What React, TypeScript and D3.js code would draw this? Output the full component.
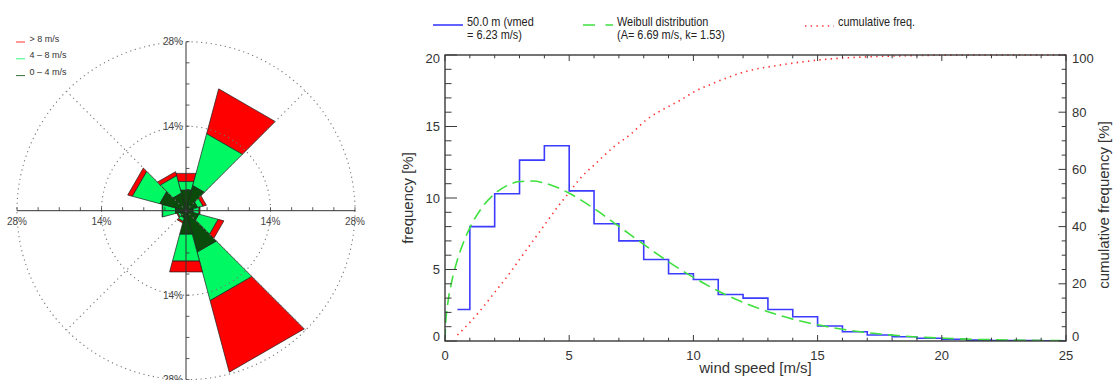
import React from "react";
import * as d3 from "d3";

// ---------------- Wind rose data (percent of time) ----------------
const roseDirections = [0, 30, 60, 90, 120, 150, 180, 210, 240, 270, 300, 330];
const roseLow = [3.5, 4.3, 2.0, 1.2, 2.2, 7.1, 4.0, 1.2, 1.0, 1.8, 4.5, 3.0]; // 0-4 m/s
const roseMid = [1.5, 8.9, 0.9, 1.0, 3.3, 8.3, 4.6, 0.6, 0.4, 2.2, 4.7, 3.0]; // 4-8 m/s
const roseHigh = [1.4, 7.7, 0.6, 0.2, 1.0, 12.3, 1.9, 0.3, 0.2, 0.1, 0.8, 0.7]; // > 8 m/s
const roseRings = [14, 28];
const roseAxisLabels = [-28, -14, 14, 28];
const roseLegendLabels = ["> 8 m/s", "4 \u2013 8 m/s", "0 \u2013 4 m/s"];

// ---------------- Histogram data ----------------
const histEdges = [0.5, 1, 2, 3, 4, 5, 6, 7, 8, 9, 10, 11, 12, 13, 14, 15, 16, 17, 18, 19, 20, 21, 22, 23, 24, 25];
const histFreq = [2.2, 8.0, 10.3, 12.65, 13.65, 10.5, 8.2, 7.0, 5.7, 4.7, 4.3, 3.25, 3.0, 2.2, 1.7, 1.05, 0.65, 0.42, 0.3, 0.19, 0.12, 0.06, 0.04, 0.03, 0.02];

const weibullSpeed = [0, 0.02, 0.1, 0.25, 0.5, 0.75, 1, 1.5, 2, 2.5, 3, 3.5, 4, 4.5, 5, 6, 7, 8, 9, 10, 11, 12, 13, 14, 15, 16, 17, 18, 19, 20, 21, 22, 23, 24, 25];
const weibullFreq = [0, 1.05, 2.47, 3.98, 5.68, 6.92, 7.91, 9.36, 10.3, 10.87, 11.15, 11.19, 11.05, 10.75, 10.33, 9.26, 8.02, 6.75, 5.54, 4.45, 3.5, 2.7, 2.05, 1.53, 1.13, 0.82, 0.58, 0.41, 0.28, 0.2, 0.13, 0.09, 0.06, 0.04, 0.02];

const cumSpeed = [0.5, 1, 1.5, 2, 2.5, 3, 3.5, 4, 4.5, 5, 5.5, 6, 6.8, 7.5, 8.1, 9, 9.5, 10, 10.8, 12.1, 13.5, 15.1, 17.1, 19, 21, 23, 25];
const cumFreq = [2.1, 6.5, 11.5, 17, 22.5, 28.5, 34.5, 40.5, 46.5, 52, 57.4, 61.5, 67.9, 72.5, 77.3, 82, 84.3, 87, 90.1, 94.2, 96.5, 98.3, 99.4, 99.8, 100, 100, 100];

const xTicks = [0, 5, 10, 15, 20, 25];
const yTicks = [0, 5, 10, 15, 20];
const y2Ticks = [0, 20, 40, 60, 80, 100];

const legendBlue = ["50.0 m (vmed", "= 6.23 m/s)"];
const legendGreen = ["Weibull distribution", "(A= 6.69 m/s, k= 1.53)"];
const legendRed = ["cumulative freq."];

const FONT = "'Liberation Sans', Arial, Helvetica, sans-serif";

const RED = "#ff0000";
const LIGHT = "#00f862";
const DARK = "#0a4a0a";

function WindRose() {
  const cx = 186;
  const cy = 210.7;
  const r = d3.scaleLinear().domain([0, 28]).range([0, 169]);
  const half = 15;
  const pt = (deg: number, rad: number) => {
    const a = (deg * Math.PI) / 180;
    return [cx + rad * Math.sin(a), cy - rad * Math.cos(a)] as [number, number];
  };
  const ring = (dir: number, r0: number, r1: number) => {
    const pts = [pt(dir - half, r0), pt(dir - half, r1), pt(dir + half, r1), pt(dir + half, r0)];
    return d3.line()(pts)! + "Z";
  };
  const tickVals = d3.range(-28, 28.01, 3.5);
  const maxR = r(28);
  return (
    <g>
      {roseDirections.map((dir, i) => {
        const c1 = roseLow[i];
        const c2 = c1 + roseMid[i];
        const c3 = c2 + roseHigh[i];
        return (
          <g key={dir} stroke="#1e1e1e" strokeWidth={0.7} strokeLinejoin="round">
            <path d={ring(dir, r(c2), r(c3))} fill={RED} />
            <path d={ring(dir, r(c1), r(c2))} fill={LIGHT} />
            <path d={ring(dir, 0, r(c1))} fill={DARK} />
          </g>
        );
      })}
      {roseRings.map((v) => (
        <circle key={v} cx={cx} cy={cy} r={r(v)} fill="none" stroke="#777" strokeWidth={1.1} strokeDasharray="1.2,3.6" />
      ))}
      {[45, 135, 225, 315].map((d) => {
        const p = pt(d, maxR);
        return <line key={d} x1={cx} y1={cy} x2={p[0]} y2={p[1]} stroke="#777" strokeWidth={1.1} strokeDasharray="1.2,3.6" />;
      })}
      <line x1={cx - maxR} x2={cx + maxR} y1={cy} y2={cy} stroke="#333" strokeWidth={1} />
      <line x1={cx} x2={cx} y1={cy - maxR} y2={cy + maxR} stroke="#333" strokeWidth={1} />
      {tickVals.map((v) => (
        <g key={v}>
          <line x1={cx + r(v)} x2={cx + r(v)} y1={cy} y2={cy - 3.5} stroke="#333" strokeWidth={0.8} />
          <line x1={cx} x2={cx + 3.5} y1={cy + r(v)} y2={cy + r(v)} stroke="#333" strokeWidth={0.8} />
        </g>
      ))}
      {roseAxisLabels.map((v) => (
        <text key={"h" + v} x={cx + r(v)} y={cy + 14} textAnchor="middle" fontSize={10} fill="#444" fontFamily={FONT}>
          {Math.abs(v) + "%"}
        </text>
      ))}
      {roseAxisLabels.map((v) => (
        <text key={"v" + v} x={cx - 3} y={cy + r(v) + 3.5} textAnchor="end" fontSize={10} fill="#444" fontFamily={FONT}>
          {Math.abs(v) + "%"}
        </text>
      ))}
      {roseLegendLabels.map((lab, i) => {
        const y = 42 + i * 16.8;
        const col = [RED, LIGHT, DARK][i];
        return (
          <g key={lab}>
            <line x1={16} x2={25} y1={y} y2={y} stroke={col} strokeWidth={1} opacity={0.8} />
            <text x={29.5} y={y - 0.5} fontSize={9} fill="#333" fontFamily={FONT}>
              {lab}
            </text>
          </g>
        );
      })}
    </g>
  );
}

function Histogram() {
  const x = d3.scaleLinear().domain([0, 25]).range([445, 1066]);
  const y = d3.scaleLinear().domain([0, 20]).range([341, 55]);
  const y2 = d3.scaleLinear().domain([0, 100]).range([341, 55]);

  const stepPts: [number, number][] = histEdges.map((e, i) => [x(e), y(histFreq[Math.min(i, histFreq.length - 1)])]);
  const stepPath = d3.line().curve(d3.curveStepAfter)(stepPts)!;

  const weibPath = d3
    .line<number>()
    .x((d, i) => x(weibullSpeed[i]))
    .y((d) => y(d))
    .curve(d3.curveMonotoneX)(weibullFreq)!;

  const cumPath = d3
    .line<number>()
    .x((d, i) => x(cumSpeed[i]))
    .y((d) => y2(d))
    .curve(d3.curveMonotoneX)(cumFreq)!;

  const [x0, x1] = x.range();
  const [yb, yt] = y.range();
  const axisCol = "#3a3a3a";

  const minorX = d3.range(0, 25.01, 1);
  const minorY = d3.range(0, 20.01, 1);
  const minorY2 = d3.range(0, 100.01, 5);

  const endNudge = (v: number, lo: number, hi: number) => (v === lo ? -5 : v === hi ? 3 : 0);

  return (
    <g fontFamily={FONT}>
      <defs>
        <clipPath id="plotclip">
          <rect x={x0} y={yt - 2} width={x1 - x0} height={yb - yt + 2} />
        </clipPath>
      </defs>
      <g clipPath="url(#plotclip)" fill="none">
        <path d={cumPath} stroke="#ff3030" strokeWidth={1.6} strokeDasharray="1.4,4.3" />
        <path d={stepPath} stroke="#3c3cff" strokeWidth={1.6} />
        <path d={weibPath} stroke="#3ee03e" strokeWidth={1.6} strokeDasharray="12,6" />
      </g>
      {/* frame */}
      <rect x={x0} y={yt} width={x1 - x0} height={yb - yt} fill="none" stroke={axisCol} strokeWidth={1.4} />
      {minorX.map((v) => {
        const major = v % 5 === 0;
        const l = major ? 6 : 3.3;
        return (
          <g key={"x" + v} stroke={axisCol} strokeWidth={1}>
            <line x1={x(v)} x2={x(v)} y1={yb} y2={yb - l} />
            <line x1={x(v)} x2={x(v)} y1={yt} y2={yt + l} />
          </g>
        );
      })}
      {minorY.map((v) => {
        const major = v % 5 === 0;
        const l = major ? 12 : 6.5;
        return <line key={"y" + v} x1={x0} x2={x0 + l} y1={y(v)} y2={y(v)} stroke={axisCol} strokeWidth={1} />;
      })}
      {minorY2.map((v) => {
        const major = v % 20 === 0;
        const l = major ? 7.5 : 4.3;
        return <line key={"y2" + v} x1={x1} x2={x1 - l} y1={y2(v)} y2={y2(v)} stroke={axisCol} strokeWidth={1} />;
      })}
      {xTicks.map((v) => (
        <text key={"xl" + v} x={x(v)} y={360} textAnchor="middle" fontSize={13} fill="#333">
          {v}
        </text>
      ))}
      {yTicks.map((v) => (
        <text key={"yl" + v} x={440} y={y(v) + endNudge(v, 0, 20)} dy="0.36em" textAnchor="end" fontSize={13} fill="#333">
          {v}
        </text>
      ))}
      {y2Ticks.map((v) => (
        <text key={"y2l" + v} x={1072} y={y2(v) + endNudge(v, 0, 100)} dy="0.36em" textAnchor="start" fontSize={13} fill="#333">
          {v}
        </text>
      ))}
      <text x={(x0 + x1) / 2} y={373} textAnchor="middle" fontSize={15} fill="#333">
        wind speed [m/s]
      </text>
      <text transform="translate(413,198) rotate(-90)" textAnchor="middle" fontSize={15} fill="#333">
        frequency [%]
      </text>
      <text transform="translate(1109,205) rotate(-90)" textAnchor="middle" fontSize={15} fill="#333">
        cumulative frequency [%]
      </text>

      {/* legend */}
      <line x1={433} x2={463} y1={25} y2={25} stroke="#3c3cff" strokeWidth={1.6} />
      {legendBlue.map((t, i) => (
        <text key={t} transform={`translate(467,${26 + i * 13}) scale(0.84,1)`} fontSize={13} fill="#222">
          {t}
        </text>
      ))}
      <line x1={583} x2={613} y1={25} y2={25} stroke="#3ee03e" strokeWidth={1.6} strokeDasharray="12,10.5" />
      {legendGreen.map((t, i) => (
        <text key={t} transform={`translate(617,${26 + i * 13}) scale(0.84,1)`} fontSize={13} fill="#222">
          {t}
        </text>
      ))}
      <line x1={805} x2={834} y1={26} y2={26} stroke="#ff3030" strokeWidth={1.6} strokeDasharray="1.4,4.3" />
      {legendRed.map((t) => (
        <text key={t} transform={`translate(838,26) scale(0.84,1)`} fontSize={13} fill="#222">
          {t}
        </text>
      ))}
    </g>
  );
}

export default function App() {
  return (
    <div style={{ position: "absolute", left: 0, top: 0, width: 1115, height: 380, background: "#fff" }}>
      <svg width={1115} height={380} style={{ display: "block" }}>
        <rect width={1115} height={380} fill="#fff" />
        <WindRose />
        <Histogram />
      </svg>
    </div>
  );
}
